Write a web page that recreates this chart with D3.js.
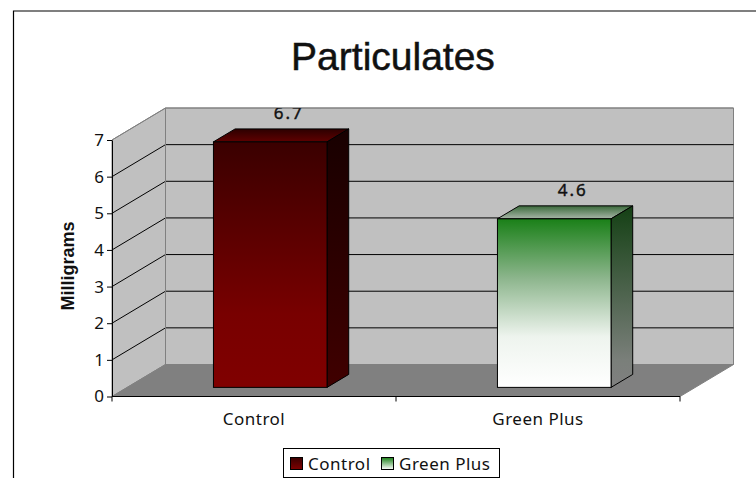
<!DOCTYPE html>
<html>
<head>
<meta charset="utf-8">
<script src="https://cdn.jsdelivr.net/npm/d3@7"></script>
<style>
  html, body { margin: 0; padding: 0; background: #fff; }
  svg { display: block; }
  text { fill: #111; }
</style>
</head>
<body>
<svg id="chart" width="756" height="478"></svg>
<script>
var categories = ["Control", "Green Plus"];
var values = [6.7, 4.6];
var yTicks = [0, 1, 2, 3, 4, 5, 6, 7];
var chartTitle = "Particulates";
var yTitle = "Milligrams";

var tickFont = "'Noto Sans', sans-serif";
var svg = d3.select("#chart");

// the floor is a parallelogram, depth is the shift of the back wall
var depthX = 53.5, depthY = -32;
var x = d3.scaleBand().domain(categories).range([112, 680]).paddingInner(0.6).paddingOuter(0.3);
var xAxisScale = d3.scaleBand().domain(categories).range([112, 680]);
var y = d3.scaleLinear().domain([0, 7]).range([396.5, 140]);

// bars stand in the middle of the floor
var barShift = 0.285, barDepth = 0.405;

function poly(pts) { return pts.map(function (p) { return p.join(","); }).join(" "); }

function gradient(id, stops) {
  var g = svg.append("defs").append("linearGradient").attr("id", id)
    .attr("x1", 0).attr("y1", 0).attr("x2", 0).attr("y2", 1);
  stops.forEach(function (s) {
    g.append("stop").attr("offset", s[0]).attr("stop-color", s[1]);
  });
}

gradient("front0", [[0, "#3a0000"], [0.7, "#780000"], [1, "#800000"]]);
gradient("side0", [[0, "#180000"], [1, "#400000"]]);
gradient("top0", [[0, "#2c0000"], [1, "#600000"]]);
gradient("front1", [[0, "#1a8018"], [0.35, "#8cb58c"], [0.7, "#eef4ee"], [1, "#ffffff"]]);
gradient("side1", [[0, "#144014"], [0.85, "#7a7f7a"], [1, "#808080"]]);
gradient("top1", [[0, "#3a6a3a"], [1, "#a8b5a8"]]);
gradient("swatch0", [[0, "#3a0000"], [1, "#800000"]]);
gradient("swatch1", [[0, "#1a8018"], [1, "#ffffff"]]);

// the data labels get cut by the top of the wall
svg.append("defs").append("clipPath").attr("id", "labelClip")
  .append("rect").attr("x", 0).attr("y", 108).attr("width", 756).attr("height", 370);

// outer frame runs off the right and bottom edge
svg.append("path").attr("d", "M13.5,478V11H756").attr("fill", "none").attr("stroke", "#000").attr("stroke-width", 1.2);

svg.append("text").attr("x", 393).attr("y", 70).attr("text-anchor", "middle")
  .style("font-family", "'Liberation Sans', Arial, sans-serif").style("font-size", "39px")
  .style("stroke", "#111").style("stroke-width", "0.5px").text(chartTitle);

// walls and floor
var x0 = 112, x1 = 680;
svg.append("polygon").attr("fill", "#c0c0c0").attr("stroke", "#808080")
  .attr("points", poly([[x0, y(0)], [x0 + depthX, y(0) + depthY], [x0 + depthX, y(7) + depthY], [x0, y(7)]]));
svg.append("polygon").attr("fill", "#c0c0c0").attr("stroke", "#808080")
  .attr("points", poly([[x0 + depthX, y(0) + depthY], [x1 + depthX, y(0) + depthY], [x1 + depthX, y(7) + depthY], [x0 + depthX, y(7) + depthY]]));
svg.append("polygon").attr("fill", "#808080").attr("stroke", "#808080")
  .attr("points", poly([[x0, y(0)], [x1, y(0)], [x1 + depthX, y(0) + depthY], [x0 + depthX, y(0) + depthY]]));

// gridlines, side wall then back wall
svg.selectAll("path.grid").data(yTicks.slice(1)).enter().append("path")
  .attr("class", "grid").attr("fill", "none")
  .attr("stroke", function (d) { return d == 7 ? "#808080" : "#000"; })
  .attr("d", function (d) {
    return "M" + x0 + "," + y(d) + "L" + (x0 + depthX) + "," + (y(d) + depthY) + "H" + (x1 + depthX);
  });

svg.append("path").attr("fill", "none").attr("stroke", "#808080")
  .attr("d", "M" + (x0 + depthX) + "," + (y(7) + depthY) + "V" + (y(0) + depthY));

// bars
var bars = svg.selectAll("g.bar").data(values).enter().append("g").attr("class", "bar");
bars.each(function (d, i) {
  var g = d3.select(this);
  var l = x(categories[i]) + depthX * barShift + 1;
  var r = l + x.bandwidth();
  var b = y(0) + depthY * barShift;
  var t = b - (y(0) - y(d));
  var dx = depthX * barDepth, dy = depthY * barDepth;
  g.append("polygon").attr("fill", "url(#top" + i + ")").attr("stroke", "#000")
    .attr("points", poly([[l, t], [r, t], [r + dx, t + dy], [l + dx, t + dy]]));
  g.append("polygon").attr("fill", "url(#side" + i + ")").attr("stroke", "#000")
    .attr("points", poly([[r, t], [r + dx, t + dy], [r + dx, b + dy], [r, b]]));
  g.append("rect").attr("x", l).attr("y", t).attr("width", r - l).attr("height", b - t)
    .attr("fill", "url(#front" + i + ")").attr("stroke", "#000");
  g.append("text").attr("x", l + (r - l) / 2 + 18.5).attr("y", t + dy - 10)
    .attr("text-anchor", "middle").attr("clip-path", "url(#labelClip)")
    .style("font-family", tickFont).style("font-size", "17px")
    .style("stroke", "#111").style("stroke-width", "0.4px")
    .style("letter-spacing", "2px").text(d.toFixed(1));
});

// axes
var yAxis = d3.axisLeft(y).tickValues(yTicks).tickFormat(d3.format("d")).tickSize(5).tickSizeOuter(0).tickPadding(3);
var yG = svg.append("g").attr("transform", "translate(" + x0 + ",0)").call(yAxis);
yG.selectAll("text").style("font-family", tickFont).style("font-size", "17px");

var xAxis = d3.axisBottom(xAxisScale).tickSize(0).tickPadding(16.5);
var xG = svg.append("g").attr("transform", "translate(0," + y(0) + ")").call(xAxis);
xG.selectAll("text").style("font-family", tickFont).style("font-size", "17px").style("letter-spacing", "0.5px");
xG.select(".domain").attr("d", "M" + x0 + ",5V0H" + x1 + "V5");
xG.append("line").attr("x1", 396).attr("x2", 396).attr("y1", 0).attr("y2", 5).attr("stroke", "#000");

svg.append("text").attr("transform", "translate(74,266) rotate(-90)").attr("text-anchor", "middle")
  .style("font-family", "'Liberation Sans', Arial, sans-serif").style("font-size", "18px").style("font-weight", "bold").text(yTitle);

// legend, bottom edge is cut by the picture
svg.append("rect").attr("x", 283.5).attr("y", 448.5).attr("width", 216).attr("height", 29)
  .attr("fill", "#fff").attr("stroke", "#000");
var legendX = [290, 381];
var leg = svg.selectAll("g.legend").data(categories).enter().append("g").attr("class", "legend");
leg.append("rect").attr("x", function (d, i) { return legendX[i] + 0.5; }).attr("y", 457.5)
  .attr("width", 12).attr("height", 12).attr("stroke", "#000")
  .attr("fill", function (d, i) { return "url(#swatch" + i + ")"; });
leg.append("text").attr("x", function (d, i) { return legendX[i] + 18; }).attr("y", 470)
  .style("font-family", tickFont).style("font-size", "17px").style("letter-spacing", "0.5px").text(function (d) { return d; });
</script>
</body>
</html>
